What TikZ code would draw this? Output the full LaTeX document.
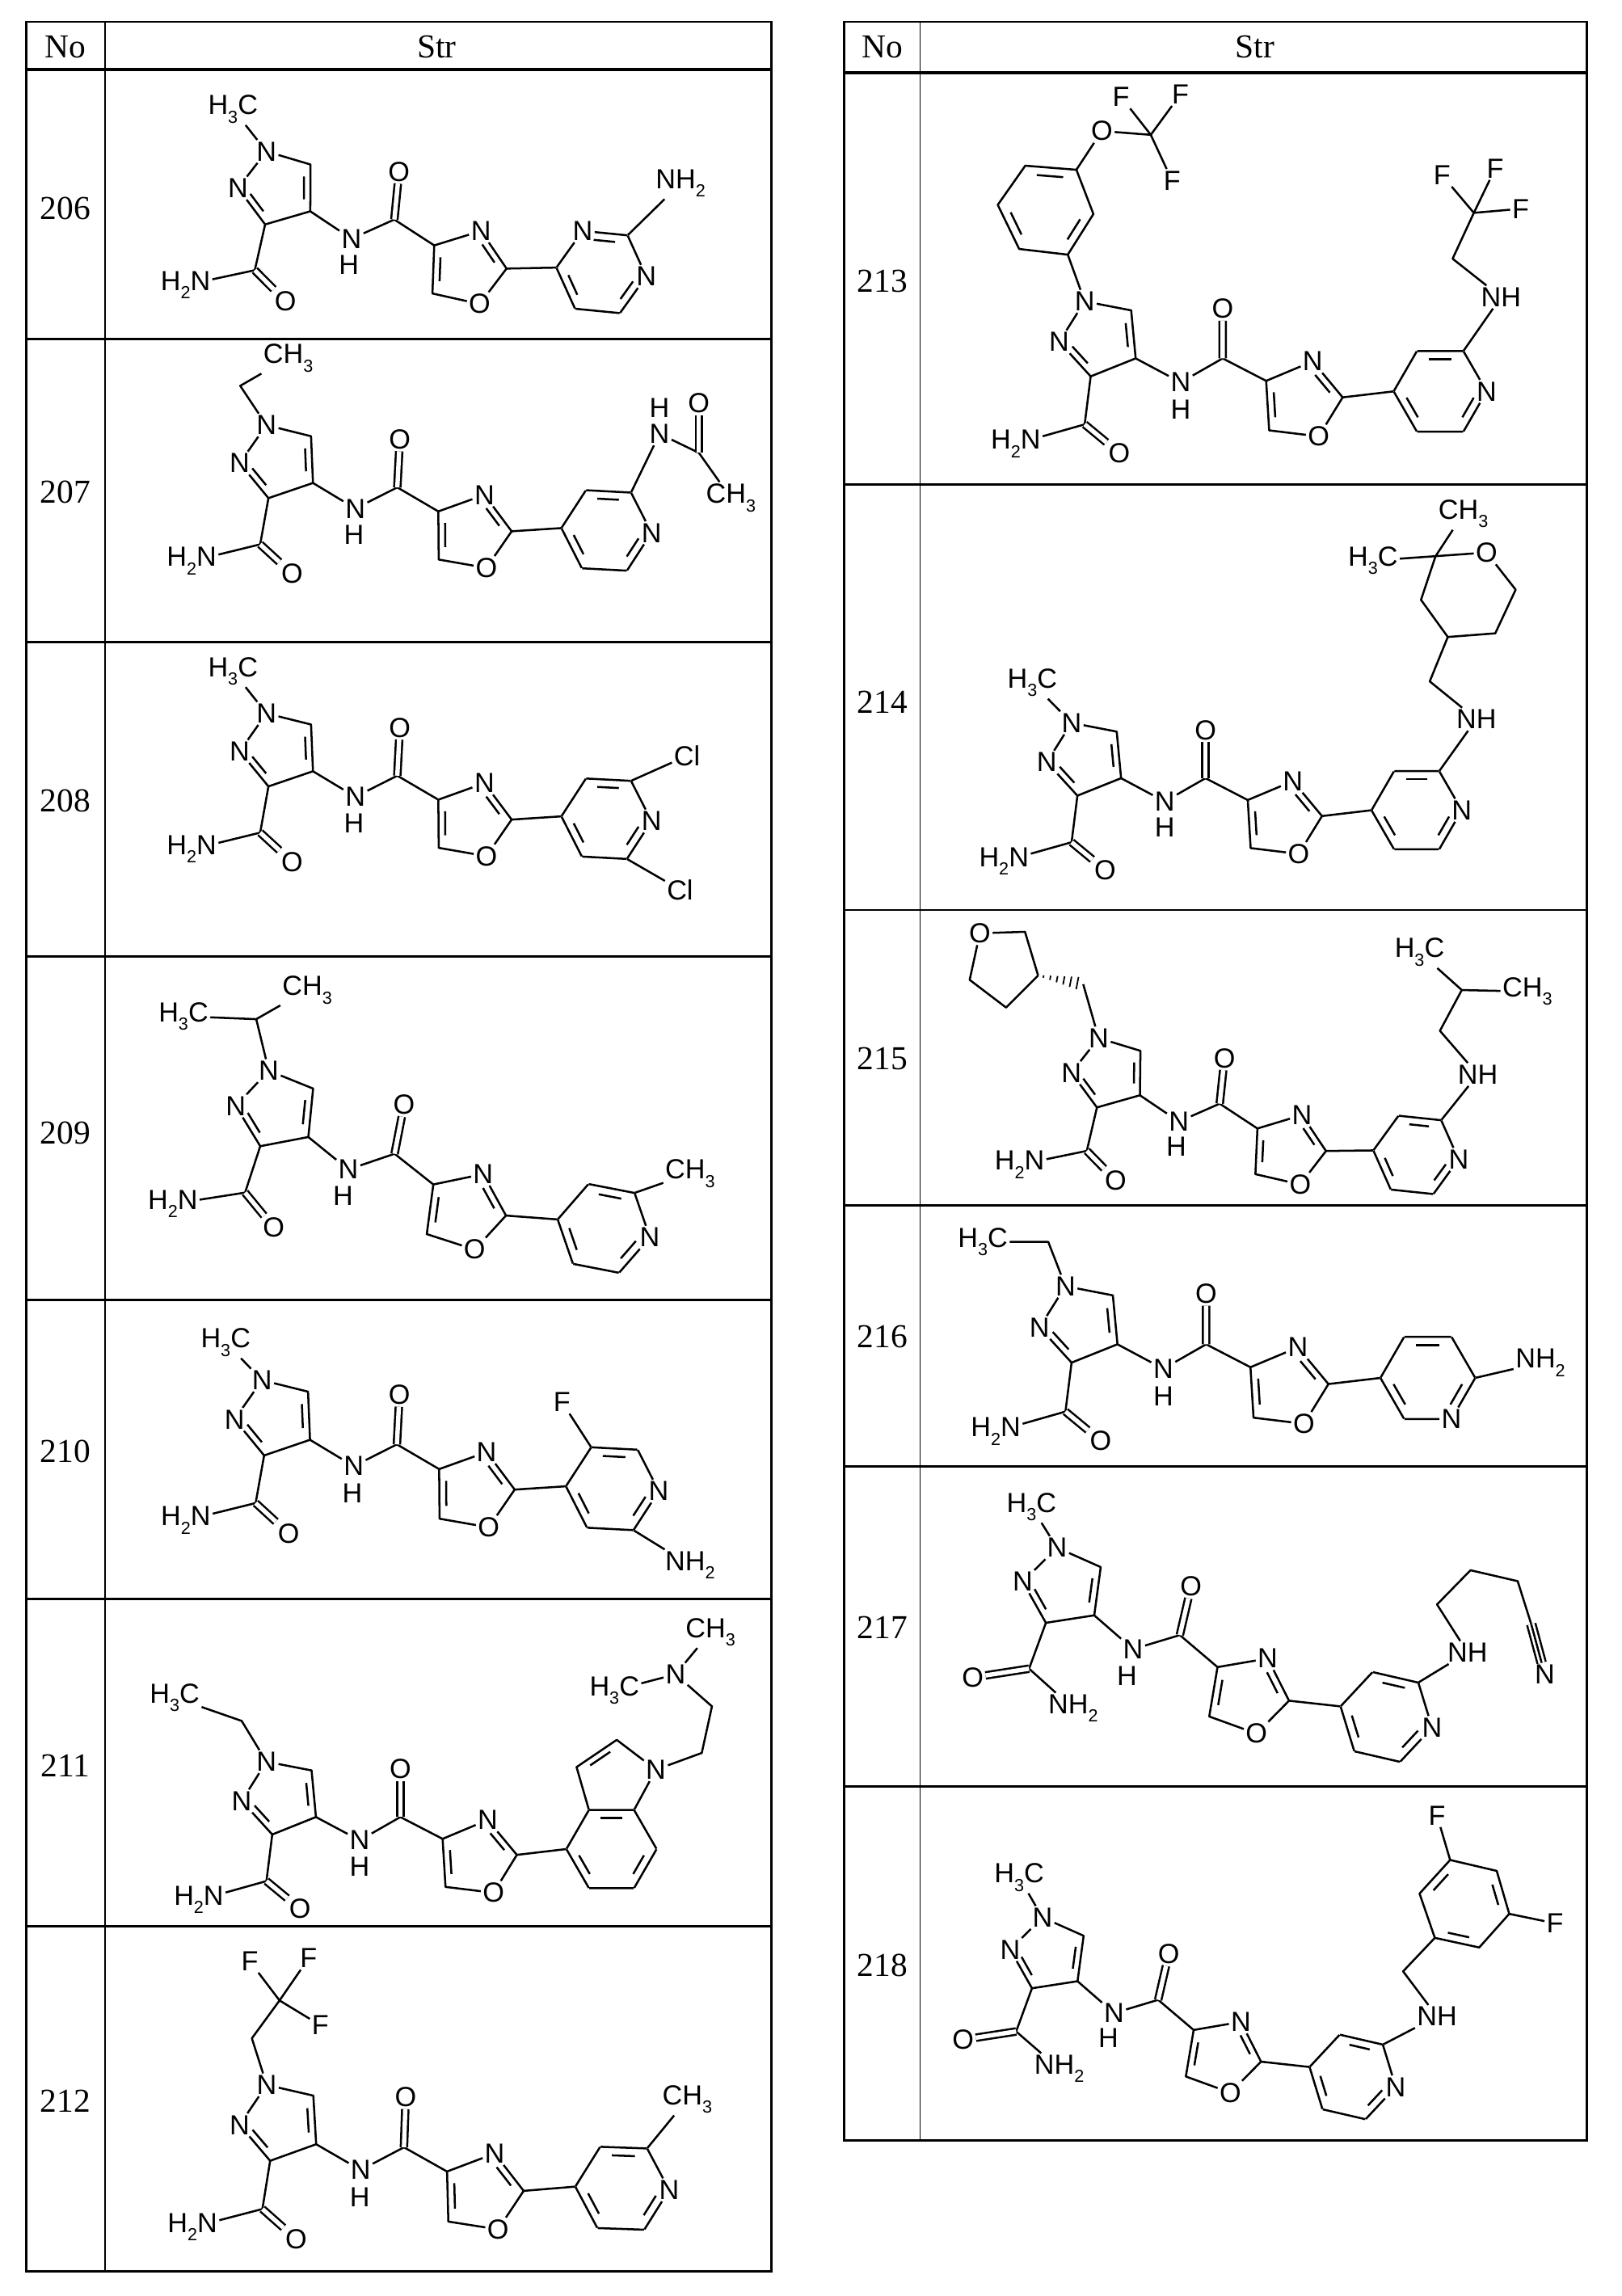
\documentclass[tikz,border=0pt]{standalone}
\usepackage{fontspec}
\setmainfont{Liberation Serif}
\newfontfamily\chemf{Liberation Sans}
\usetikzlibrary{calc}
\newcommand\chsub[1]{\raisebox{-0.3em}{\fontsize{12}{12}\selectfont #1}}
\tikzset{
 bd/.style={line width=1.4pt,line join=round},
 dbl/.style={line width=1.4pt,double,double distance=3pt},
 lb/.style={font=\chemf\fontsize{19}{19}\selectfont,inner sep=1.2pt},
 cv/.style={inner sep=0pt,minimum size=0pt},
 num/.style={font=\fontsize{23}{23}\selectfont},
 tl/.style={line width=1.6pt},
 thl/.style={line width=0.9pt}
}
\newcommand\dbc[3]{\draw[bd,shorten <=5pt,shorten >=5pt] ($(#1)!0.2!(#3)$) -- ($(#2)!0.2!(#3)$);}
\newcommand\vtx[3]{\if\relax\detokenize{#3}\relax\node[cv] (#1) at (#2) {};\else\node[lb] (#1) at (#2) {#3};\fi}
\newcommand\hexr[7]{%
 \vtx{#11}{206,60}{#2}\vtx{#12}{221.5,33.15}{#3}\vtx{#13}{252.5,33.15}{#4}%
 \vtx{#14}{268,60}{#5}\vtx{#15}{252.5,86.85}{#6}\vtx{#16}{221.5,86.85}{#7}%
 \coordinate (#1c) at (237,60);
 \draw[bd] (#11)--(#12)--(#13)--(#14)--(#15)--(#16)--(#11);
 \dbc{#12}{#13}{#1c}\dbc{#14}{#15}{#1c}\dbc{#16}{#11}{#1c}}
\newcommand\core[2]{%
 \node[lb] (#1n1) at (0,0) {N};
 \coordinate (#1c5) at (31,6); \coordinate (#1c4) at (34,38); \coordinate (#1c3) at (4,50);
 \node[lb] (#1n2) at (-17,27) {N}; \coordinate (#1pc) at (10.4,24.2);
 \draw[bd] (#1n1)--(#1c5)--(#1c4)--(#1c3)--(#1n2)--(#1n1);
 \dbc{#1c5}{#1c4}{#1pc}\dbc{#1c3}{#1n2}{#1pc}
 \coordinate (#1ac) at (0,82);
 \ifnum#2=0
  \node[lb] (#1ao) at (23,101) {O};
  \node[lb,anchor=east] (#1an) at (-28,95) {H\chsub2N};
 \else
  \node[lb] (#1ao) at (-35,96) {O};
  \node[lb,anchor=west] (#1an) at (17,105) {NH\chsub2};
 \fi
 \draw[bd] (#1c3)--(#1ac)--(#1an); \draw[dbl] (#1ac)--(#1ao);
 \node[lb] (#1nh) at (64,54) {N}; \node[lb] (#1hh) at (64,72) {H};
 \coordinate (#1kc) at (92,38); \node[lb] (#1ko) at (92,5) {O};
 \coordinate (#1ox4) at (121,53); \node[lb] (#1on3) at (152,40) {N};
 \coordinate (#1ox2) at (172,64); \node[lb] (#1oo) at (156,90) {O};
 \coordinate (#1ox5) at (123,86); \coordinate (#1oc) at (144.8,66.6);
 \draw[bd] (#1c4)--(#1nh)--(#1kc)--(#1ox4);
 \draw[dbl] (#1kc)--(#1ko);
 \draw[bd] (#1ox4)--(#1on3)--(#1ox2)--(#1oo)--(#1ox5)--(#1ox4);
 \dbc{#1ox4}{#1ox5}{#1oc}\dbc{#1on3}{#1ox2}{#1oc}}
\begin{document}
\begin{tikzpicture}[x=1pt,y=-1pt]
\useasboundingbox (0,0) rectangle (1114,1577);
% ---------- tables ----------
\draw[tl] (18,15) rectangle (530,1560);
\draw[thl] (72,15) -- (72,1560);
\draw[line width=2.2pt] (18,48) -- (530,48);
\foreach \yy in {233,441,657,893,1098,1323} \draw[tl] (18,\yy) -- (530,\yy);
\draw[tl] (580,15) rectangle (1090,1470);
\draw[thl] (632,15) -- (632,1470);
\draw[line width=2.2pt] (580,50) -- (1090,50);
\foreach \yy in {333,625,828,1007,1227} \draw[tl] (580,\yy) -- (1090,\yy);
\node[num] (hl1) at (45,32) {No}; \node[num] (hl2) at (300,32) {Str};
\node[num] (hr1) at (606,32) {No}; \node[num] (hr2) at (862,32) {Str};
\foreach \t/\yy in {206/143,207/338,208/550,209/778,210/997,211/1213,212/1443}
  \node[num] (n\t) at (45,\yy) {\t};
\foreach \t/\yy in {213/193,214/482,215/727,216/918,217/1118,218/1350}
  \node[num] (n\t) at (606,\yy) {\t};
% ---------- 206 ----------
\begin{scope}[shift={(183,104)},rotate=-5.6]
\core{a}{0}
\hexr{a6x}{}{N}{}{N}{}{}
\draw[bd] (aox2)--(a6x1);
\end{scope}
\node[lb] (a6me) at (160,75) {H\chsub3C}; \draw[bd] (an1)--(a6me);
\node[lb,anchor=west] (a6nh) at (449,126) {NH\chsub2}; \draw[bd] (a6x3)--(a6nh);
% ---------- 207 ----------
\begin{scope}[shift={(183,292)},rotate=-3]
\core{b}{0}
\hexr{b7x}{}{}{}{N}{}{}
\draw[bd] (box2)--(b7x1);
\end{scope}
\coordinate (b7c1) at (165,265); \node[lb] (b7me) at (198,246) {CH\chsub3};
\draw[bd] (bn1)--(b7c1)--(b7me);
\node[lb] (b7n) at (453,298) {N}; \node[lb] (b7h) at (453,280) {H};
\coordinate (b7k) at (480,311); \node[lb] (b7o) at (480,277) {O};
\node[lb] (b7m) at (502,342) {CH\chsub3};
\draw[bd] (b7x3)--(b7n)--(b7k)--(b7m); \draw[dbl] (b7k)--(b7o);
% ---------- 208 ----------
\begin{scope}[shift={(183,490)},rotate=-3]
\core{c}{0}
\hexr{c8x}{}{}{}{N}{}{}
\draw[bd] (cox2)--(c8x1);
\node[lb] (c8cl1) at (290,14) {Cl}; \node[lb] (c8cl2) at (290,106) {Cl};
\draw[bd] (c8x3)--(c8cl1); \draw[bd] (c8x5)--(c8cl2);
\end{scope}
\node[lb] (c8me) at (160,461) {H\chsub3C}; \draw[bd] (cn1)--(c8me);
% ---------- 209 ----------
\begin{scope}[shift={(184.6,735.4)},rotate=-11,scale=1.04]
\core{d}{0}
\hexr{d9x}{}{}{}{N}{}{}
\draw[bd] (dox2)--(d9x1);
\end{scope}
\coordinate (d9ch) at (176,700); \node[lb] (d9m1) at (126,698) {H\chsub3C};
\node[lb] (d9m2) at (211,680) {CH\chsub3};
\draw[bd] (dn1)--(d9ch)--(d9m1); \draw[bd] (d9ch)--(d9m2);
\node[lb] (d9m3) at (474,806) {CH\chsub3}; \draw[bd] (d9x3)--(d9m3);
% ---------- 210 ----------
\begin{scope}[shift={(180,948)},rotate=-3,scale=1.03]
\core{e}{0}
\hexr{e0x}{}{}{}{N}{}{}
\draw[bd] (eox2)--(e0x1);
\end{scope}
\node[lb] (e0me) at (155,922) {H\chsub3C}; \draw[bd] (en1)--(e0me);
\node[lb] (e0f) at (386,963) {F}; \draw[bd] (e0x2)--(e0f);
\node[lb] (e0nh) at (474,1075) {NH\chsub2}; \draw[bd] (e0x5)--(e0nh);
% ---------- 211 ----------
\begin{scope}[shift={(183,1210)}]
\core{f}{0}
\hexr{f1x}{}{}{}{}{}{}
\draw[bd] (fox2)--(f1x1);
\coordinate (f1c3) at (213,3.7); \coordinate (f1c2) at (240.6,-15);
\node[lb] (f1ni) at (267.5,5.5) {N}; \coordinate (f1pc) at (239,12);
\draw[bd] (f1x2)--(f1c3)--(f1c2)--(f1ni)--(f1x3);
\dbc{f1c3}{f1c2}{f1pc}
\end{scope}
\coordinate (f1e) at (166,1182); \node[lb] (f1me) at (120,1166) {H\chsub3C};
\draw[bd] (fn1)--(f1e)--(f1me);
\coordinate (f1a) at (482,1204); \coordinate (f1b) at (489,1172);
\node[lb] (f1nm) at (464,1150) {N};
\node[lb] (f1m1) at (488,1121) {CH\chsub3}; \node[lb] (f1m2) at (422,1161) {H\chsub3C};
\draw[bd] (f1ni)--(f1a)--(f1b)--(f1nm)--(f1m1); \draw[bd] (f1nm)--(f1m2);
% ---------- 212 ----------
\begin{scope}[shift={(183.2,1432)},rotate=-2,scale=1.04]
\core{g}{0}
\hexr{g2x}{}{}{}{N}{}{}
\draw[bd] (gox2)--(g2x1);
\end{scope}
\coordinate (g2a) at (173,1400); \coordinate (g2b) at (192,1374);
\node[lb] (g2f1) at (171.5,1347) {F}; \node[lb] (g2f2) at (212,1345) {F};
\node[lb] (g2f3) at (220,1391) {F};
\draw[bd] (gn1)--(g2a)--(g2b)--(g2f1); \draw[bd] (g2b)--(g2f2); \draw[bd] (g2b)--(g2f3);
\node[lb] (g2m) at (472,1442) {CH\chsub3}; \draw[bd] (g2x3)--(g2m);
% ---------- 213 ----------
\begin{scope}[shift={(745,207)},scale=1.03]
\core{h}{0}
\hexr{h3x}{}{}{}{N}{}{}
\draw[bd] (hox2)--(h3x1);
\end{scope}
\coordinate (h3p1) at (733.4,174.9); \coordinate (h3p2) at (751,147);
\coordinate (h3p3) at (739.3,116.6); \coordinate (h3p4) at (704.2,113.8);
\coordinate (h3p5) at (685.3,140.7); \coordinate (h3p6) at (700,171);
\coordinate (h3pc) at (718.8,144);
\draw[bd] (hn1)--(h3p1)--(h3p2)--(h3p3)--(h3p4)--(h3p5)--(h3p6)--(h3p1);
\dbc{h3p3}{h3p4}{h3pc}\dbc{h3p1}{h3p2}{h3pc}\dbc{h3p5}{h3p6}{h3pc}
\node[lb] (h3o) at (756.8,90) {O}; \coordinate (h3c) at (790.4,92.6);
\node[lb] (h3f1) at (770,66.6) {F}; \node[lb] (h3f2) at (810.8,64.8) {F};
\node[lb] (h3f3) at (805,124) {F};
\draw[bd] (h3p3)--(h3o)--(h3c)--(h3f1); \draw[bd] (h3c)--(h3f2); \draw[bd] (h3c)--(h3f3);
\node[lb] (h3nh) at (1031,204) {NH}; \coordinate (h3a) at (997.7,177.7);
\coordinate (h3b) at (1012.3,146.2);
\node[lb] (h3g1) at (990.4,120.3) {F}; \node[lb] (h3g2) at (1027,115.7) {F};
\node[lb] (h3g3) at (1044.4,143.4) {F};
\draw[bd] (h3x3)--(h3nh)--(h3a)--(h3b)--(h3g1); \draw[bd] (h3b)--(h3g2); \draw[bd] (h3b)--(h3g3);
% ---------- 214 ----------
\begin{scope}[shift={(736,496.5)}]
\core{i}{0}
\hexr{i4x}{}{}{}{N}{}{}
\draw[bd] (iox2)--(i4x1);
\end{scope}
\node[lb] (i4me) at (709,469) {H\chsub3C}; \draw[bd] (in1)--(i4me);
\node[lb] (i4nh) at (1014,494) {NH}; \coordinate (i4a) at (982,468);
\coordinate (i4r4) at (994.4,437.5); \coordinate (i4r3) at (976,412);
\coordinate (i4r2) at (986,382); \node[lb] (i4o) at (1021,379.5) {O};
\coordinate (i4r6) at (1041,405); \coordinate (i4r5) at (1027,435);
\draw[bd] (i4x3)--(i4nh)--(i4a)--(i4r4)--(i4r3)--(i4r2)--(i4o)--(i4r6)--(i4r5)--(i4r4);
\node[lb] (i4m1) at (1005,353) {CH\chsub3}; \node[lb] (i4m2) at (943,385) {H\chsub3C};
\draw[bd] (i4r2)--(i4m1); \draw[bd] (i4r2)--(i4m2);
% ---------- 215 ----------
\begin{scope}[shift={(754.6,713)},rotate=-6,scale=0.95]
\core{j}{0}
\hexr{j5x}{}{}{}{N}{}{}
\draw[bd] (jox2)--(j5x1);
\end{scope}
\coordinate (j5a) at (744,676); \coordinate (j5c3) at (713,670);
\coordinate (j5c2) at (704,640); \node[lb] (j5o) at (673,641) {O};
\coordinate (j5c5) at (666,673); \coordinate (j5c4) at (691,692);
\draw[bd] (jn1)--(j5a);
\draw[bd] (j5c3)--(j5c2)--(j5o)--(j5c5)--(j5c4)--(j5c3);
\foreach \t/\w in {0.12/0.8,0.27/1.5,0.42/2.2,0.57/2.9,0.72/3.6,0.87/4.3}
  \draw[line width=1pt] ($(j5c3)!\t!(j5a)!\w pt!90:(j5a)$) -- ($(j5c3)!\t!(j5a)!\w pt!-90:(j5a)$);
\node[lb] (j5nh) at (1015,738) {NH}; \coordinate (j5b) at (989,708);
\coordinate (j5ch) at (1004,680);
\node[lb] (j5m1) at (1049,681) {CH\chsub3}; \node[lb] (j5m2) at (975,654) {H\chsub3C};
\draw[bd] (j5x3)--(j5nh)--(j5b)--(j5ch)--(j5m1); \draw[bd] (j5ch)--(j5m2);
% ---------- 216 ----------
\begin{scope}[shift={(731.8,883.4)},scale=1.05]
\core{k}{0}
\hexr{k6x}{}{}{}{}{N}{}
\draw[bd] (kox2)--(k6x1);
\end{scope}
\coordinate (k6a) at (720,853); \node[lb] (k6me) at (675,853) {H\chsub3C};
\draw[bd] (kn1)--(k6a)--(k6me);
\node[lb] (k6nh) at (1058,936) {NH\chsub2}; \draw[bd] (k6x4)--(k6nh);
% ---------- 217 ----------
\begin{scope}[shift={(726,1063)},rotate=-13,scale=1.04]
\core{l}{1}
\hexr{l7x}{}{}{}{N}{}{}
\draw[bd] (lox2)--(l7x1);
\end{scope}
\node[lb] (l7me) at (708.5,1035) {H\chsub3C}; \draw[bd] (ln1)--(l7me);
\node[lb] (l7nh) at (1008,1135) {NH};
\coordinate (l7a) at (987,1102); \coordinate (l7b) at (1010,1078.5);
\coordinate (l7c) at (1042.4,1086); \coordinate (l7d) at (1051.7,1115.5);
\node[lb] (l7n) at (1061,1150) {N};
\draw[bd] (l7x3)--(l7nh)--(l7a)--(l7b)--(l7c)--(l7d);
\draw[line width=1.4pt,double,double distance=4.4pt] (l7d)--(l7n);
\draw[bd] (l7d)--(l7n);
% ---------- 218 ----------
\begin{scope}[shift={(716,1317)},rotate=-13,scale=0.98]
\core{m}{1}
\hexr{m8x}{}{}{}{N}{}{}
\draw[bd] (mox2)--(m8x1);
\end{scope}
\node[lb] (m8me) at (700,1289.5) {H\chsub3C}; \draw[bd] (mn1)--(m8me);
\node[lb] (m8nh) at (987,1385) {NH}; \coordinate (m8a) at (963.7,1354);
\coordinate (m8p1) at (985.5,1331); \coordinate (m8p2) at (975,1300.6);
\coordinate (m8p3) at (996,1277.5); \coordinate (m8p4) at (1028,1285);
\coordinate (m8p5) at (1036.6,1314.5); \coordinate (m8p6) at (1016,1337.6);
\coordinate (m8pc) at (1006,1308);
\draw[bd] (m8x3)--(m8nh)--(m8a)--(m8p1)--(m8p2)--(m8p3)--(m8p4)--(m8p5)--(m8p6)--(m8p1);
\dbc{m8p2}{m8p3}{m8pc}\dbc{m8p4}{m8p5}{m8pc}\dbc{m8p6}{m8p1}{m8pc}
\node[lb] (m8f1) at (987,1247) {F}; \node[lb] (m8f2) at (1068,1321) {F};
\draw[bd] (m8p3)--(m8f1); \draw[bd] (m8p5)--(m8f2);
\end{tikzpicture}
\end{document}
